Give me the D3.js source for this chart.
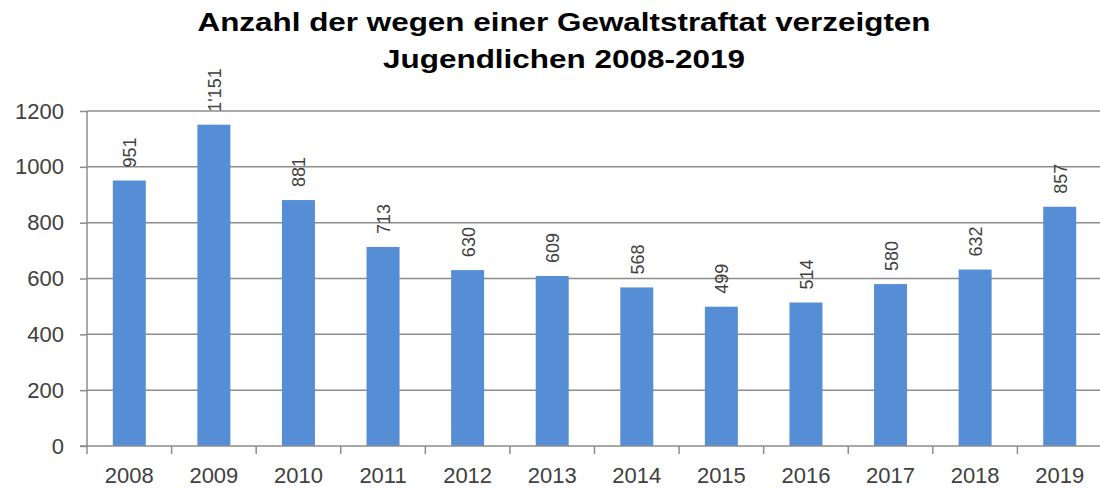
<!DOCTYPE html>
<html>
<head>
<meta charset="utf-8">
<script src="https://cdn.jsdelivr.net/npm/d3@7"></script>
<style>
  body { margin: 0; background: #fff; }
  svg { display: block; }
</style>
</head>
<body>
<div id="chart"></div>
<script>
// data
var years = ["2008","2009","2010","2011","2012","2013","2014","2015","2016","2017","2018","2019"];
var counts = [951, 1151, 881, 713, 630, 609, 568, 499, 514, 580, 632, 857];
var countLabels = ["951","1'151","881","713","630","609","568","499","514","580","632","857"];
var yTicks = [0, 200, 400, 600, 800, 1000, 1200];
var titleLines = ["Anzahl der wegen einer Gewaltstraftat verzeigten", "Jugendlichen 2008-2019"];

var width = 1100, height = 492;
var mLeft = 87, mRight = 1102, mTop = 111, mBottom = 446;

var svg = d3.select("#chart").append("svg")
    .attr("width", width)
    .attr("height", height);

var x = d3.scaleBand()
    .domain(years)
    .range([mLeft, mRight])
    .paddingInner(0.61)
    .paddingOuter(0.305);

var y = d3.scaleLinear()
    .domain([0, 1200])
    .range([mBottom, mTop]);

var font = "'Liberation Sans', Arial, sans-serif";

// gridlines
svg.append("g")
    .selectAll("line")
    .data(yTicks.filter(function(d) { return d > 0; }))
    .enter().append("line")
    .attr("x1", mLeft)
    .attr("x2", width)
    .attr("y1", function(d) { return y(d); })
    .attr("y2", function(d) { return y(d); })
    .style("stroke", "#8c8c8c")
    .style("stroke-width", 1.5);

// bars
svg.append("g")
    .selectAll("rect")
    .data(counts)
    .enter().append("rect")
    .attr("x", function(d, i) { return x(years[i]); })
    .attr("y", function(d) { return y(d); })
    .attr("width", x.bandwidth())
    .attr("height", function(d) { return mBottom - y(d); })
    .style("fill", "#558ed5");

// y axis
var yAxis = svg.append("g")
    .attr("transform", "translate(" + mLeft + ",0)")
    .call(d3.axisLeft(y).tickValues(yTicks).tickSize(7).tickPadding(16).tickFormat(d3.format("d")));
yAxis.select(".domain").attr("d", "M0," + mTop + "V" + mBottom).style("stroke", "#8c8c8c").style("stroke-width", 1.5);
yAxis.selectAll(".tick line").style("stroke", "#8c8c8c").style("stroke-width", 1.5);
yAxis.selectAll("text")
    .style("font-family", font)
    .style("font-size", "22px")
    .style("fill", "#404040");

// x axis with ticks at category boundaries
var xAxis = svg.append("g")
    .attr("transform", "translate(0," + mBottom + ")");
xAxis.append("line")
    .attr("x1", mLeft - 7)
    .attr("x2", width)
    .style("stroke", "#8c8c8c")
    .style("stroke-width", 1.5);
var step = x.step();
xAxis.selectAll(".bound")
    .data(years)
    .enter().append("line")
    .attr("class", "bound")
    .attr("x1", function(d) { return x(d) - x.paddingOuter() * step; })
    .attr("x2", function(d) { return x(d) - x.paddingOuter() * step; })
    .attr("y1", 0)
    .attr("y2", 8)
    .style("stroke", "#8c8c8c")
    .style("stroke-width", 1.5);
xAxis.selectAll(".lbl")
    .data(years)
    .enter().append("text")
    .attr("class", "lbl")
    .attr("x", function(d) { return x(d) + x.bandwidth() / 2; })
    .attr("y", 37)
    .attr("text-anchor", "middle")
    .style("font-family", font)
    .style("font-size", "22px")
    .style("fill", "#404040")
    .text(function(d) { return d; });

// value labels (rotated)
svg.append("g")
    .selectAll("text")
    .data(counts)
    .enter().append("text")
    .attr("transform", function(d, i) {
        return "translate(" + (x(years[i]) + x.bandwidth() / 2 + 7) + "," + (y(d) - 13) + ") rotate(-90)";
    })
    .attr("text-anchor", "start")
    .style("font-family", font)
    .style("font-size", "18px")
    .style("fill", "#404040")
    .text(function(d, i) { return countLabels[i]; });

// title
svg.append("g")
    .selectAll("text")
    .data(titleLines)
    .enter().append("text")
    .attr("x", 564)
    .attr("y", function(d, i) { return 31 + i * 37; })
    .attr("text-anchor", "middle")
    .attr("textLength", function(d, i) { return i === 0 ? 733 : 362; })
    .attr("lengthAdjust", "spacingAndGlyphs")
    .style("font-family", font)
    .style("font-weight", "bold")
    .style("font-size", "26px")
    .style("fill", "#000")
    .text(function(d) { return d; });
</script>
</body>
</html>
